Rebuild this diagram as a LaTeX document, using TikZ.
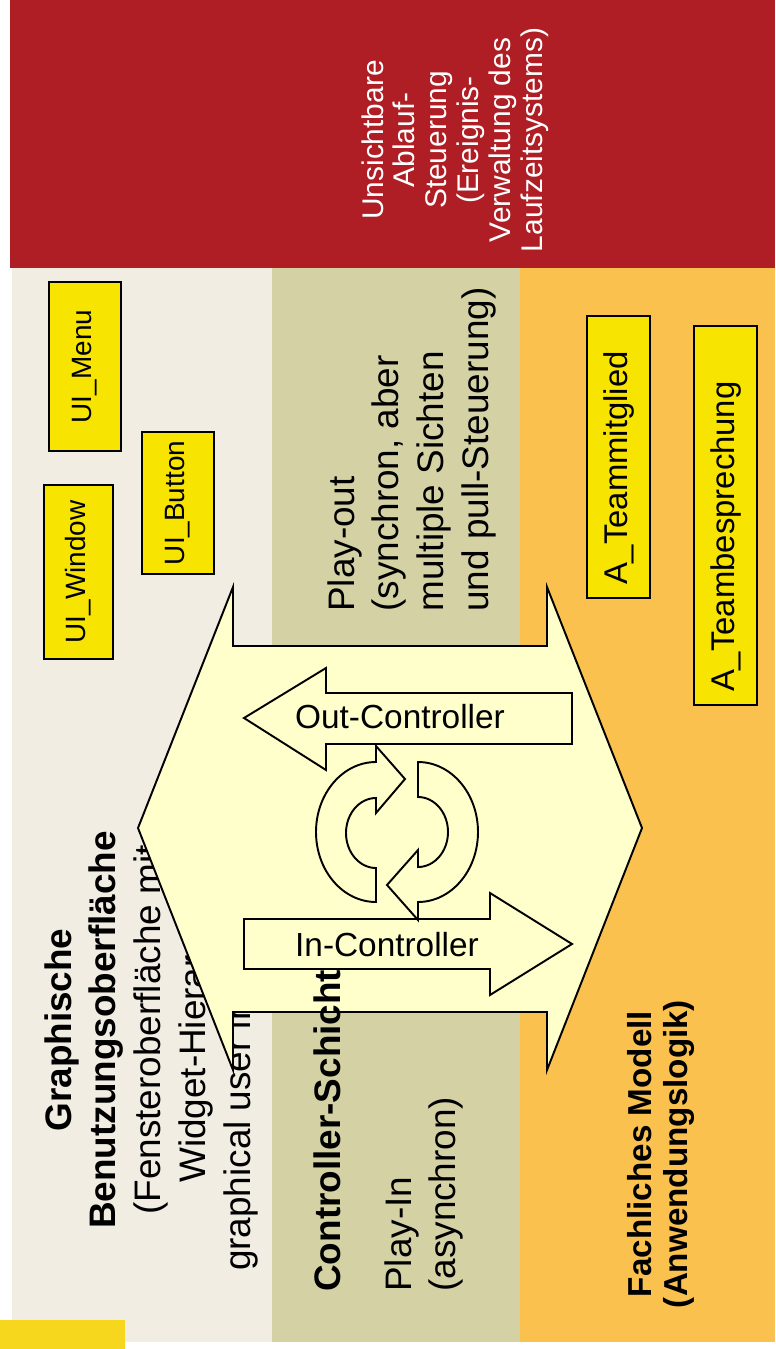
\documentclass[tikz,border=0pt]{standalone}
\usepackage{fontspec}
\setmainfont{Liberation Sans}
\usetikzlibrary{positioning}
\definecolor{laufzeitred}{RGB}{175,30,36}
\definecolor{guibeige}{RGB}{241,237,227}
\definecolor{ctrlolive}{RGB}{212,210,165}
\definecolor{modelorange}{RGB}{251,193,79}
\definecolor{classyellow}{RGB}{247,228,0}
\definecolor{arrowcream}{RGB}{255,255,204}
\definecolor{baryellow}{RGB}{247,214,30}
\tikzstyle{layertitle} = [rotate=90, inner sep=0pt, align=center, font=\bfseries\fontsize{21}{25.5}\selectfont]
\tikzstyle{layertext} = [rotate=90, inner sep=0pt, align=left, font=\fontsize{21}{25.5}\selectfont]
\tikzstyle{flowarrow} = [draw, line width=1.1pt, fill=arrowcream, line join=miter]
\tikzset{
  uiclass/.style={
    draw,
    fill=classyellow,
    line width=1.1pt,
    rotate=90,
    inner sep=0pt,
    font=\fontsize{15.9}{19}\selectfont},
  modelclass/.style={
    draw,
    fill=classyellow,
    line width=1.1pt,
    rotate=90,
    inner xsep=0.26cm,
    inner ysep=0pt,
    minimum height=1.26cm,
    align=left,
    font=\fontsize{18.7}{22}\selectfont}
}

\begin{document}
\begin{tikzpicture}[x=0.02cm, y=-0.02cm]
      \useasboundingbox (0,0) rectangle (775,1349);
      % Layers
      \fill [laufzeitred] (10,0) rectangle (775,268);
      \fill [guibeige] (12,268) rectangle (272,1342);
      \fill [ctrlolive] (272,268) rectangle (520,1342);
      \fill [modelorange] (520,268) rectangle (775,1342);
      \fill [baryellow] (0,1320) rectangle (125,1349);

      % Define nodes
      \node (laufzeit) [layertext, align=center, text=white, font=\fontsize{17}{18.1}\selectfont, anchor=north] at (361,140) {Unsichtbare\\Ablauf-\\Steuerung\\(Ereignis-\\Verwaltung des\\Laufzeitsystems)};
      \node (gui) [layertext, align=center, anchor=north] at (44,1030) {\textbf{Graphische}\\\textbf{Benutzungsoberfläche}\\(Fensteroberfläche mit\\Widget-Hierarchie,\\graphical user interface, GUI)};
      \node (ui_menu) [uiclass, minimum width=3.38cm, minimum height=1.44cm] at (85,366.5) {UI\_Menu};
      \node (ui_button) [uiclass, minimum width=2.84cm, minimum height=1.44cm] at (178,503) {UI\_Button};
      \node (ui_window) [uiclass, minimum width=3.48cm, minimum height=1.38cm] at (78.5,572) {UI\_Window};
      \node (play_out) [layertext, anchor=north west] at (327,612) {Play-out\\(synchron, aber\\multiple Sichten\\und pull-Steuerung)};
      \node (play_in) [layertext, anchor=north west] at (384,1292) {Play-In\\(asynchron)};
      \node (a_mitglied) [modelclass, text width=5.12cm] at (618.5,457) {A\_Teammitglied};
      \node (a_besprechung) [modelclass, text width=7.06cm] at (725.5,515.5) {A\_Teambesprechung};
      \node (model) [layertitle, font=\bfseries\fontsize{18.9}{20.4}\selectfont, anchor=north] at (627,1154) {Fachliches Modell\\(Anwendungslogik)};

      % Controller arrows
      \draw [flowarrow] (138,828) -- (233,587) -- (233,646) -- (547,646) -- (547,587) -- (642,828)
            -- (547,1070) -- (547,1012) -- (233,1012) -- (233,1070) -- cycle;
      \node (ctrl) [layertitle, anchor=base west] at (340,1292) {Controller-Schicht};
      \draw [flowarrow] (244,718) -- (326,668) -- (326,693) -- (572,693) -- (572,744) -- (326,744) -- (326,770) -- cycle;
      \node (out_ctrl) [font=\fontsize{19}{22}\selectfont] at (400,717) {Out-Controller};
      \draw [flowarrow] (244,919) -- (490,919) -- (490,893) -- (572,944) -- (490,995) -- (490,969) -- (244,969) -- cycle;
      \node (in_ctrl) [font=\fontsize{19}{22}\selectfont] at (387,945) {In-Controller};
      \draw [flowarrow] (376,762) arc[start angle=270, end angle=90, x radius=60, y radius=70] -- (376,868)
            arc[start angle=90, end angle=270, x radius=30, y radius=35] -- (376,813) -- (405,779) -- (376,746) -- cycle;
      \draw [flowarrow] (418,762) arc[start angle=-90, end angle=90, x radius=60, y radius=70] -- (418,920) -- (387,885)
            -- (418,850) -- (418,867) arc[start angle=90, end angle=-90, x radius=30, y radius=35] -- cycle;
\end{tikzpicture}
\end{document}
